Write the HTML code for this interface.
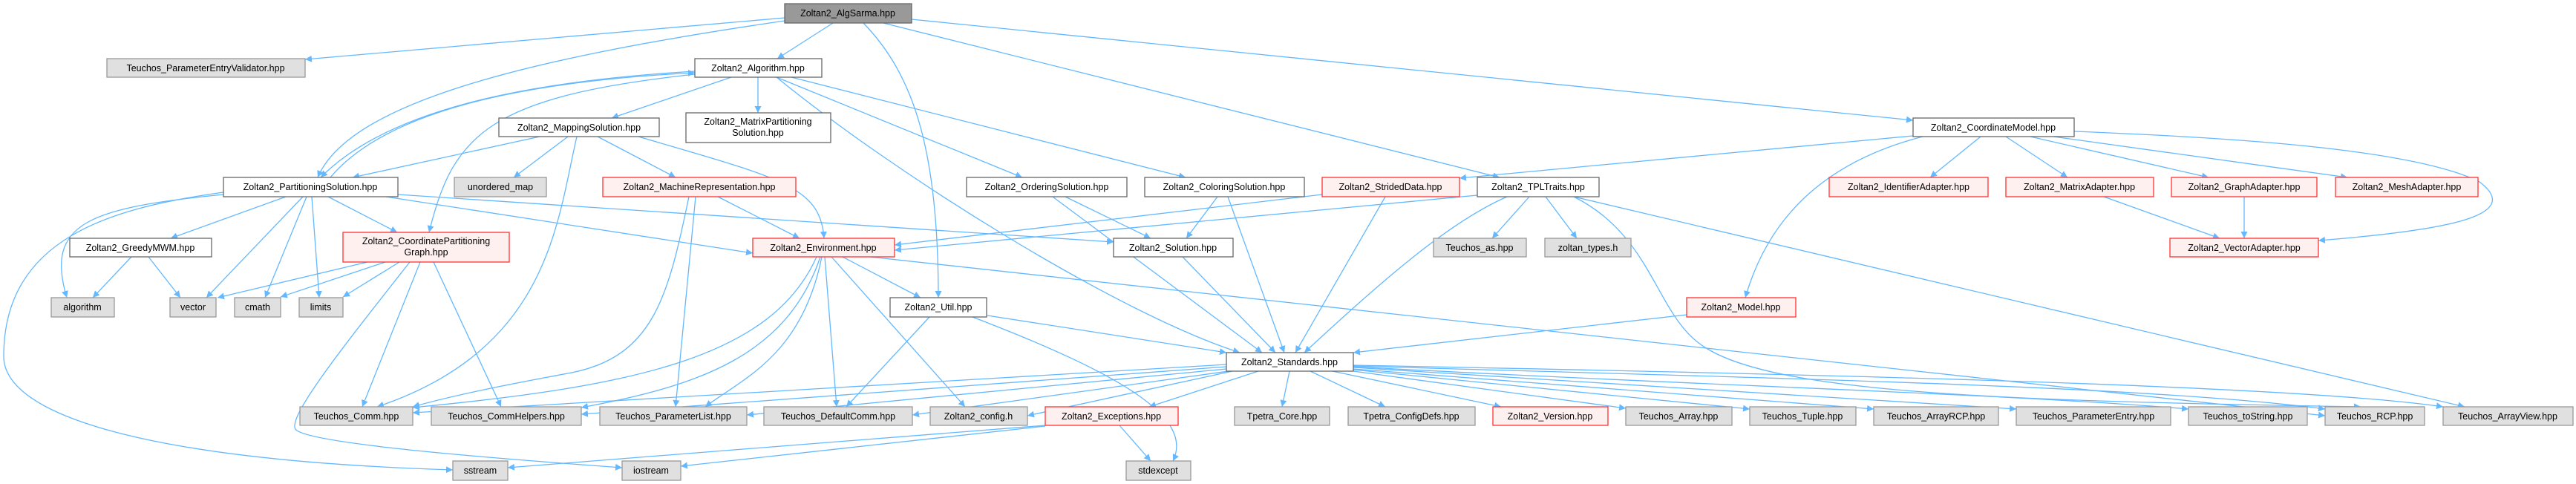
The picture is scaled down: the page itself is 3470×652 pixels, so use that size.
<!DOCTYPE html>
<html><head><meta charset="utf-8"><style>
html,body{margin:0;padding:0;background:#fff;}
svg{display:block}
text{font-family:"Liberation Sans","DejaVu Sans",sans-serif;font-size:12.5px;fill:#000;text-anchor:middle}
.e{fill:none;stroke:#63b8ff;stroke-width:1.3}
.w{fill:#fff;stroke:#666;stroke-width:1.3}
.g{fill:#e0e0e0;stroke:#999;stroke-width:1.3}
.r{fill:#fff0f0;stroke:#f33;stroke-width:1.3}
.k{fill:#999;stroke:#666;stroke-width:1.3}
</style></head><body>
<svg width="3470" height="652" viewBox="0 0 3470 652" xmlns="http://www.w3.org/2000/svg">
<defs><marker id="a" viewBox="0 0 10 10" refX="10" refY="5" markerWidth="9" markerHeight="9" orient="auto" markerUnits="userSpaceOnUse"><path d="M0,0L10,5L0,10z" fill="#63b8ff"/></marker></defs>
<g class="e" marker-end="url(#a)">
<path d="M1057,24L411,80"/>
<path d="M1057,28C700,80 470,140 428,239"/>
<path d="M1122,31L1047,79"/>
<path d="M1163,31C1230,100 1264,200 1264,401"/>
<path d="M1190,31L2020,239"/>
<path d="M1228,26L2577,162"/>
<path d="M936,96C700,110 520,150 432,239"/>
<path d="M445,239C520,150 700,110 936,98"/>
<path d="M936,100C660,130 610,180 578,313"/>
<path d="M985,104L824,159"/>
<path d="M1021,104L1021,152"/>
<path d="M1046,104L1377,239"/>
<path d="M1066,104L1597,239"/>
<path d="M1046,104C1200,230 1500,420 1670,475"/>
<path d="M727,184L475,239"/>
<path d="M765,184L692,239"/>
<path d="M777,184C750,300 740,470 508,548"/>
<path d="M805,184L910,239"/>
<path d="M860,184C1050,240 1105,250 1110,321"/>
<path d="M385,265L230,321"/>
<path d="M301,262C120,280 60,300 90,401"/>
<path d="M301,259C150,280 5,320 5,480C5,560 200,620 610,633"/>
<path d="M408,265L278,401"/>
<path d="M413,265L357,401"/>
<path d="M420,265L430,401"/>
<path d="M442,265L535,313"/>
<path d="M520,265L1014,341"/>
<path d="M536,262L1500,326"/>
<path d="M177,346L125,401"/>
<path d="M200,346L243,401"/>
<path d="M495,353L293,401"/>
<path d="M519,353L378,400"/>
<path d="M538,353L462,400"/>
<path d="M566,353L488,548"/>
<path d="M584,353L675,548"/>
<path d="M552,353C460,470 380,570 400,580C430,600 700,620 838,630"/>
<path d="M967,265L1077,321"/>
<path d="M937,265L910,548"/>
<path d="M928,265C900,400 880,480 770,502C700,515 620,530 556,548"/>
<path d="M1100,346C1040,480 860,520 556,549"/>
<path d="M1105,346C1060,480 940,520 783,549"/>
<path d="M1107,346C1080,480 1000,510 950,548"/>
<path d="M1111,346L1127,548"/>
<path d="M1120,346L1300,548"/>
<path d="M1135,346L1240,401"/>
<path d="M1172,346L3132,560"/>
<path d="M1330,425L1652,475"/>
<path d="M1252,427L1140,548"/>
<path d="M1310,427C1500,500 1610,560 1580,621"/>
<path d="M1652,491L556,556"/>
<path d="M1652,494L783,558"/>
<path d="M1652,497L1006,559"/>
<path d="M1655,500L1229,559"/>
<path d="M1660,500L1384,560"/>
<path d="M1695,500L1548,548"/>
<path d="M1737,500L1727,548"/>
<path d="M1765,500L1866,548"/>
<path d="M1795,500L2022,548"/>
<path d="M1823,500L2190,550"/>
<path d="M1823,498L2357,551"/>
<path d="M1823,497L2524,551"/>
<path d="M1823,495L2716,551"/>
<path d="M1823,494C2300,520 2700,530 2948,551"/>
<path d="M1823,493C2400,510 2900,520 3132,551"/>
<path d="M1823,492C2500,505 3100,520 3291,548"/>
<path d="M1408,573L684,630"/>
<path d="M1408,574L917,628"/>
<path d="M1508,573L1550,621"/>
<path d="M1435,265L1550,321"/>
<path d="M1418,265L1700,475"/>
<path d="M1640,265L1598,321"/>
<path d="M1654,265L1730,475"/>
<path d="M1593,346L1718,475"/>
<path d="M1781,262L1205,330"/>
<path d="M1866,265L1745,475"/>
<path d="M1990,263L1205,337"/>
<path d="M2030,265C1950,300 1860,380 1757,475"/>
<path d="M2060,265L2010,321"/>
<path d="M2082,265L2124,321"/>
<path d="M2120,265L3320,548"/>
<path d="M2120,265C2230,320 2230,430 2300,470C2400,530 2700,540 3180,548"/>
<path d="M2577,183L1966,240"/>
<path d="M2590,184C2450,220 2380,300 2351,401"/>
<path d="M2668,184L2600,239"/>
<path d="M2702,184L2785,239"/>
<path d="M2735,184L2975,239"/>
<path d="M2766,184L3162,239"/>
<path d="M2794,177C3000,185 3250,200 3340,245C3400,290 3300,310 3123,324"/>
<path d="M2834,265L2990,321"/>
<path d="M3023,265L3023,321"/>
<path d="M2272,424L1823,475"/>
</g>
<g>
<rect class="k" x="1057" y="5" width="171" height="26"/><text x="1142" y="22">Zoltan2_AlgSarma.hpp</text>
<rect class="g" x="144" y="79" width="267" height="25"/><text x="277" y="96">Teuchos_ParameterEntryValidator.hpp</text>
<rect class="w" x="936" y="79" width="171" height="25"/><text x="1021" y="96">Zoltan2_Algorithm.hpp</text>
<rect class="w" x="672" y="159" width="216" height="25"/><text x="780" y="176">Zoltan2_MappingSolution.hpp</text>
<rect class="w" x="924" y="152" width="195" height="40"/><text x="1021" y="168">Zoltan2_MatrixPartitioning</text><text x="1021" y="183">Solution.hpp</text>
<rect class="w" x="2577" y="159" width="217" height="25"/><text x="2685" y="176">Zoltan2_CoordinateModel.hpp</text>

<rect class="w" x="301" y="239" width="235" height="26"/><text x="418" y="256">Zoltan2_PartitioningSolution.hpp</text>
<rect class="g" x="612" y="239" width="124" height="26"/><text x="674" y="256">unordered_map</text>
<rect class="r" x="812" y="239" width="260" height="26"/><text x="942" y="256">Zoltan2_MachineRepresentation.hpp</text>
<rect class="w" x="1302" y="239" width="216" height="26"/><text x="1410" y="256">Zoltan2_OrderingSolution.hpp</text>
<rect class="w" x="1542" y="239" width="215" height="26"/><text x="1649" y="256">Zoltan2_ColoringSolution.hpp</text>
<rect class="r" x="1781" y="239" width="185" height="26"/><text x="1873" y="256">Zoltan2_StridedData.hpp</text>
<rect class="w" x="1990" y="239" width="164" height="26"/><text x="2072" y="256">Zoltan2_TPLTraits.hpp</text>
<rect class="r" x="2464" y="239" width="214" height="26"/><text x="2571" y="256">Zoltan2_IdentifierAdapter.hpp</text>
<rect class="r" x="2702" y="239" width="199" height="26"/><text x="2801" y="256">Zoltan2_MatrixAdapter.hpp</text>
<rect class="r" x="2925" y="239" width="196" height="26"/><text x="3023" y="256">Zoltan2_GraphAdapter.hpp</text>
<rect class="r" x="3146" y="239" width="192" height="26"/><text x="3242" y="256">Zoltan2_MeshAdapter.hpp</text>

<rect class="w" x="94" y="321" width="191" height="25"/><text x="189" y="338">Zoltan2_GreedyMWM.hpp</text>
<rect class="r" x="462" y="313" width="224" height="40"/><text x="574" y="329">Zoltan2_CoordinatePartitioning</text><text x="574" y="344">Graph.hpp</text>
<rect class="r" x="1014" y="321" width="191" height="25"/><text x="1109" y="338">Zoltan2_Environment.hpp</text>
<rect class="w" x="1500" y="321" width="161" height="25"/><text x="1580" y="338">Zoltan2_Solution.hpp</text>
<rect class="g" x="1931" y="321" width="125" height="25"/><text x="1993" y="338">Teuchos_as.hpp</text>
<rect class="g" x="2081" y="321" width="116" height="25"/><text x="2139" y="338">zoltan_types.h</text>
<rect class="r" x="2923" y="321" width="200" height="25"/><text x="3023" y="338">Zoltan2_VectorAdapter.hpp</text>

<rect class="g" x="69" y="401" width="85" height="26"/><text x="111" y="418">algorithm</text>
<rect class="g" x="229" y="401" width="62" height="26"/><text x="260" y="418">vector</text>
<rect class="g" x="316" y="401" width="62" height="26"/><text x="347" y="418">cmath</text>
<rect class="g" x="403" y="401" width="59" height="26"/><text x="432" y="418">limits</text>
<rect class="w" x="1199" y="401" width="130" height="26"/><text x="1264" y="418">Zoltan2_Util.hpp</text>
<rect class="r" x="2272" y="401" width="147" height="26"/><text x="2345" y="418">Zoltan2_Model.hpp</text>

<rect class="w" x="1652" y="475" width="171" height="25"/><text x="1737" y="492">Zoltan2_Standards.hpp</text>

<rect class="g" x="404" y="548" width="152" height="25"/><text x="480" y="565">Teuchos_Comm.hpp</text>
<rect class="g" x="581" y="548" width="202" height="25"/><text x="682" y="565">Teuchos_CommHelpers.hpp</text>
<rect class="g" x="808" y="548" width="198" height="25"/><text x="907" y="565">Teuchos_ParameterList.hpp</text>
<rect class="g" x="1029" y="548" width="200" height="25"/><text x="1129" y="565">Teuchos_DefaultComm.hpp</text>
<rect class="g" x="1253" y="548" width="131" height="25"/><text x="1318" y="565">Zoltan2_config.h</text>
<rect class="r" x="1408" y="548" width="179" height="25"/><text x="1497" y="565">Zoltan2_Exceptions.hpp</text>
<rect class="g" x="1663" y="548" width="128" height="25"/><text x="1727" y="565">Tpetra_Core.hpp</text>
<rect class="g" x="1816" y="548" width="171" height="25"/><text x="1901" y="565">Tpetra_ConfigDefs.hpp</text>
<rect class="r" x="2011" y="548" width="155" height="25"/><text x="2088" y="565">Zoltan2_Version.hpp</text>
<rect class="g" x="2190" y="548" width="143" height="25"/><text x="2261" y="565">Teuchos_Array.hpp</text>
<rect class="g" x="2357" y="548" width="143" height="25"/><text x="2428" y="565">Teuchos_Tuple.hpp</text>
<rect class="g" x="2524" y="548" width="168" height="25"/><text x="2608" y="565">Teuchos_ArrayRCP.hpp</text>
<rect class="g" x="2716" y="548" width="208" height="25"/><text x="2820" y="565">Teuchos_ParameterEntry.hpp</text>
<rect class="g" x="2948" y="548" width="160" height="25"/><text x="3028" y="565">Teuchos_toString.hpp</text>
<rect class="g" x="3132" y="548" width="134" height="25"/><text x="3199" y="565">Teuchos_RCP.hpp</text>
<rect class="g" x="3291" y="548" width="175" height="25"/><text x="3378" y="565">Teuchos_ArrayView.hpp</text>

<rect class="g" x="610" y="621" width="74" height="26"/><text x="647" y="638">sstream</text>
<rect class="g" x="838" y="621" width="79" height="26"/><text x="877" y="638">iostream</text>
<rect class="g" x="1517" y="621" width="87" height="26"/><text x="1560" y="638">stdexcept</text>
</g>
</svg>
</body></html>
